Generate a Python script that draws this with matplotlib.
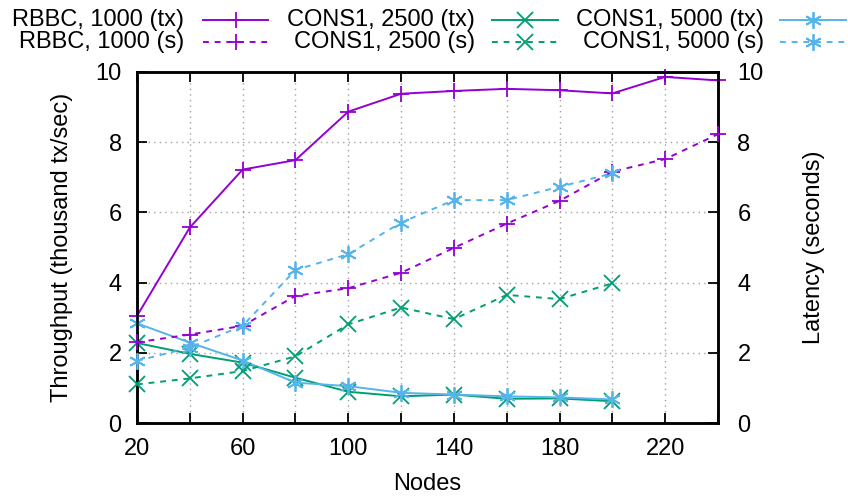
import matplotlib.pyplot as plt
from matplotlib.lines import Line2D

plt.rcParams['font.family'] = ['Liberation Sans', 'DejaVu Sans']

nodes = [20, 40, 60, 80, 100, 120, 140, 160, 180, 200, 220, 240]
nodes_cons = [20, 40, 60, 80, 100, 120, 140, 160, 180, 200]

rbbc_tx = [3.05, 5.57, 7.22, 7.49, 8.87, 9.38, 9.46, 9.52, 9.48, 9.39, 9.86, 9.76]
rbbc_s = [2.3, 2.52, 2.77, 3.62, 3.84, 4.28, 4.99, 5.68, 6.33, 7.16, 7.52, 8.23]
cons2500_tx = [2.28, 1.97, 1.72, 1.29, 0.89, 0.76, 0.81, 0.69, 0.70, 0.62]
cons2500_s = [1.10, 1.27, 1.48, 1.90, 2.81, 3.29, 2.96, 3.65, 3.53, 3.98]
cons5000_tx = [2.84, 2.29, 1.78, 1.15, 1.05, 0.86, 0.81, 0.76, 0.73, 0.67]
cons5000_s = [1.77, 2.15, 2.77, 4.36, 4.81, 5.71, 6.35, 6.35, 6.73, 7.11]

purple = '#9400d3'
green = '#009e73'
blue = '#56b4e9'
fs = 17

fig = plt.figure(figsize=(8.48, 4.99), dpi=100)
ax = fig.add_axes([137 / 848, 76 / 499, 581 / 848, 351 / 499])
ax2 = ax.twinx()

dash = (0, (3, 3))
series = [
    (nodes, rbbc_tx, purple, '+', '-', 'RBBC, 1000 (tx)'),
    (nodes_cons, cons2500_tx, green, 'x', '-', 'CONS1, 2500 (tx)'),
    (nodes_cons, cons5000_tx, blue, (6, 2, 0), '-', 'CONS1, 5000 (tx)'),
    (nodes, rbbc_s, purple, '+', dash, 'RBBC, 1000 (s)'),
    (nodes_cons, cons2500_s, green, 'x', dash, 'CONS1, 2500 (s)'),
    (nodes_cons, cons5000_s, blue, (6, 2, 0), dash, 'CONS1, 5000 (s)'),
]

for i, (xs, ys, c, m, ls, lab) in enumerate(series):
    target = ax if i < 3 else ax2
    target.plot(xs, ys, color=c, marker=m, linestyle=ls, linewidth=1.4,
                markersize=12, markeredgewidth=1.3, clip_on=False, zorder=3)

ax.set_xlim(20, 240)
ax.set_ylim(0, 10)
ax2.set_ylim(0, 10)
ax.set_xticks(range(20, 241, 20))
ax.set_xticklabels([str(v) if (v - 20) % 40 == 0 else '' for v in range(20, 241, 20)])
ax.set_yticks(range(0, 11, 2))
ax2.set_yticks(range(0, 11, 2))

ax.grid(True, linestyle=(0, (1, 3)), color='#a0a0a0', linewidth=1)
ax.tick_params(direction='in', length=7, width=1.3, labelsize=fs, top=True)
ax.tick_params(axis='y', pad=11)
ax.tick_params(axis='x', pad=11)
ax2.tick_params(direction='in', length=7, width=1.3, labelsize=fs, pad=14)
for a in (ax, ax2):
    for s in a.spines.values():
        s.set_linewidth(1.8)

ax.set_xlabel('Nodes', fontsize=fs, labelpad=9)
ax.set_ylabel('Throughput (thousand tx/sec)', fontsize=fs, labelpad=16)
ax2.set_ylabel('Latency (seconds)', fontsize=fs, labelpad=28)

# gnuplot-style key: label right-aligned, then sample line
text_right = [184, 475, 764]
sample_x = [(203, 268), (492, 558), (780, 846)]
row_y = [20, 42]
for i, (xs, ys, c, m, ls, lab) in enumerate(series):
    col = i % 3
    row = i // 3
    y = 1 - row_y[row] / 499
    fig.text(text_right[col] / 848, y, lab, ha='right', va='center', fontsize=fs)
    x0, x1 = sample_x[col]
    fig.add_artist(Line2D([x0 / 848, x1 / 848], [y, y], color=c, linestyle=ls,
                          linewidth=1.4, transform=fig.transFigure))
    fig.add_artist(Line2D([(x0 + x1) / 2 / 848], [y], color=c, marker=m,
                          markersize=12, markeredgewidth=1.3,
                          transform=fig.transFigure))

fig.savefig('out.png', dpi=100)
